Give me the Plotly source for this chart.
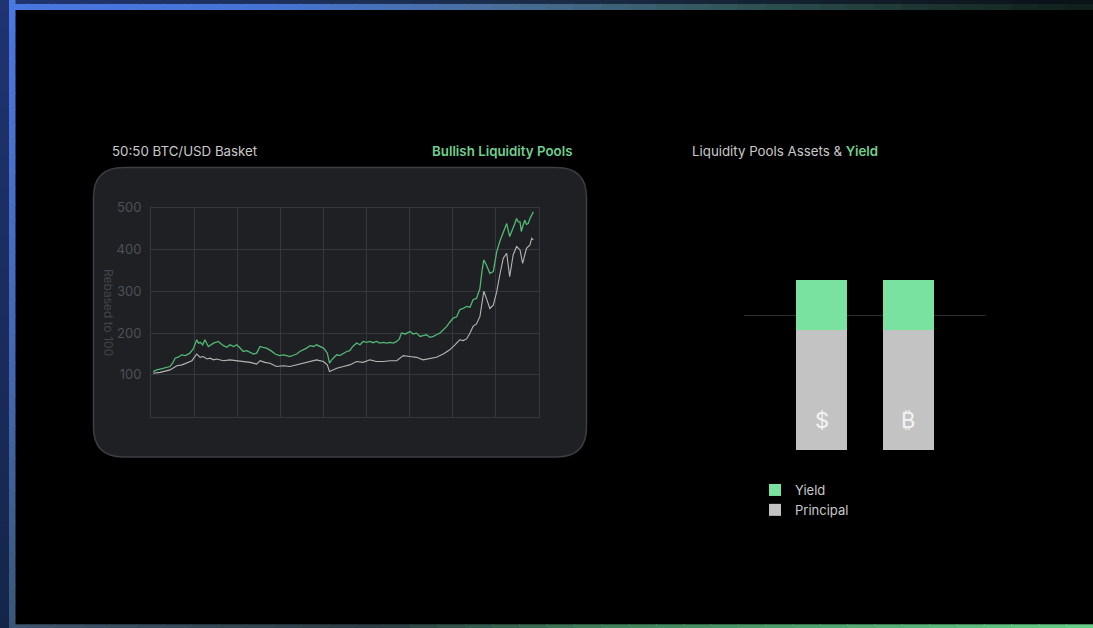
import plotly.graph_objects as go

W, H = 1093, 628

# ---------------- data ----------------
# left chart: x in grid intervals (0..9), values rebased to 100
lp_x = [0.05, 0.13, 0.21, 0.30, 0.44, 0.50, 0.56, 0.64, 0.71, 0.80, 0.90, 0.98, 1.06, 1.10, 1.14,
        1.20, 1.25, 1.33, 1.40, 1.45, 1.56, 1.62, 1.68, 1.76, 1.83, 1.92, 1.99, 2.06, 2.14, 2.22,
        2.30, 2.38, 2.45, 2.53, 2.60, 2.68, 2.78, 2.88, 2.98, 3.07, 3.15, 3.22, 3.30, 3.38, 3.45,
        3.53, 3.61, 3.69, 3.77, 3.84, 3.92, 4.00, 4.05, 4.09, 4.14, 4.19, 4.25, 4.31, 4.38, 4.46,
        4.54, 4.61, 4.68, 4.77, 4.85, 4.92, 5.00, 5.08, 5.15, 5.23, 5.31, 5.39, 5.47, 5.54, 5.62,
        5.70, 5.76, 5.81, 5.90, 6.01, 6.08, 6.16, 6.24, 6.31, 6.39, 6.47, 6.55, 6.62, 6.70, 6.78,
        6.86, 6.93, 7.01, 7.09, 7.16, 7.24, 7.32, 7.40, 7.47, 7.55, 7.63, 7.68, 7.72, 7.78, 7.82,
        7.86, 7.94, 8.02, 8.09, 8.13, 8.17, 8.21, 8.25, 8.32, 8.36, 8.40, 8.44, 8.48, 8.52, 8.56,
        8.59, 8.63, 8.67, 8.71, 8.75, 8.79, 8.83, 8.87]
lp_y = [108, 112, 114, 117, 120, 128, 140, 143, 148, 146, 152, 162, 184, 176, 178,
        172, 184, 168, 174, 176, 180, 174, 170, 166, 172, 168, 172, 165, 156, 158,
        154, 150, 152, 168, 166, 164, 158, 150, 146, 148, 146, 144, 147, 150, 156,
        160, 164, 170, 168, 172, 168, 164, 158, 152, 128, 136, 142, 148, 146, 152,
        156, 158, 168, 176, 172, 180, 178, 180, 177, 180, 176, 178, 176, 178, 176,
        180, 186, 200, 198, 204, 198, 200, 192, 194, 196, 190, 192, 196, 200, 208,
        216, 226, 236, 239, 256, 259, 264, 262, 280, 283, 307, 350, 375, 363, 352,
        343, 347, 395, 419, 430, 443, 452, 462, 431, 440, 451, 462, 474, 466, 466,
        443, 458, 470, 460, 462, 474, 482, 490]

basket_x = [0.05, 0.21, 0.44, 0.60, 0.72, 0.83, 0.95, 1.06, 1.14, 1.21, 1.30, 1.37, 1.45,
            1.52, 1.68, 1.83, 1.99, 2.14, 2.30, 2.45, 2.53, 2.64, 2.76, 2.91, 3.07, 3.22,
            3.38, 3.53, 3.69, 3.84, 4.00, 4.09, 4.14, 4.22, 4.31, 4.46, 4.61, 4.77, 4.92,
            5.08, 5.23, 5.39, 5.54, 5.70, 5.85, 6.00, 6.16, 6.31, 6.47, 6.62, 6.78, 6.93,
            7.05, 7.16, 7.24, 7.32, 7.40, 7.47, 7.55, 7.63, 7.67, 7.72, 7.78, 7.86, 7.94,
            8.02, 8.09, 8.17, 8.25, 8.32, 8.40, 8.48, 8.56, 8.62, 8.71, 8.79, 8.83, 8.87]
basket_y = [104, 106, 112, 122, 124, 128, 134, 150, 142, 144, 138, 140, 136,
            138, 134, 136, 134, 132, 130, 126, 134, 130, 128, 120, 122, 120,
            124, 128, 132, 136, 132, 124, 108, 112, 116, 120, 124, 132, 130,
            136, 132, 132, 134, 134, 146, 144, 142, 136, 140, 142, 150, 160,
            172, 184, 182, 186, 200, 216, 222, 240, 267, 300, 283, 259, 267,
            299, 339, 379, 391, 335, 387, 407, 399, 367, 403, 411, 427, 423]

y_ticks = [0, 100, 200, 300, 400, 500]
y_ticktext = ["", "100", "200", "300", "400", "500"]

# right chart
assets = ["USD", "BTC"]
principal = [100, 100]
yield_part = [42, 42]
asset_symbols = ["$", "₿"]
ref_lines = [0, 112]

# ---------------- style ----------------
FONT = "Inter, DejaVu Sans, sans-serif"
GREEN_TXT = "#6fcf8f"
GRAY_TXT = "#c9c9c9"
GRID = "#34373c"
PANEL = "#1e2024"
PANEL_LINE = "#3b3e43"
SYMBOL_Y = 25
TITLE_SIZE = 13.3

# the rendered page maps paper-pixel y to 8 + y*620/628, so place items in target pixels
Y_OFF, H_EFF = 8, 620


def px(x):
    return x / W


def py(y):
    return 1 - (y - Y_OFF) / H_EFF


def rrect_path(x0, y0, x1, y1, r):
    pts = [
        ("M", [(x0 + r, y0)]),
        ("L", [(x1 - r, y0)]),
        ("Q", [(x1, y0), (x1, y0 + r)]),
        ("L", [(x1, y1 - r)]),
        ("Q", [(x1, y1), (x1 - r, y1)]),
        ("L", [(x0 + r, y1)]),
        ("Q", [(x0, y1), (x0, y1 - r)]),
        ("L", [(x0, y0 + r)]),
        ("Q", [(x0, y0), (x0 + r, y0)]),
    ]
    s = ""
    for cmd, ps in pts:
        s += cmd + " ".join(f"{px(a):.5f},{py(b):.5f}" for a, b in ps) + " "
    return s + "Z"


def hex2rgb(h):
    h = h.lstrip("#")
    return tuple(int(h[i:i + 2], 16) for i in (0, 2, 4))


def blend(stops, t):
    for (t0, c0), (t1, c1) in zip(stops, stops[1:]):
        if t0 <= t <= t1:
            f = 0 if t1 == t0 else (t - t0) / (t1 - t0)
            a, b = hex2rgb(c0), hex2rgb(c1)
            return "rgb(%d,%d,%d)" % tuple(round(a[i] + (b[i] - a[i]) * f) for i in range(3))
    return stops[-1][1]


fig = go.Figure()

fig.add_trace(go.Scatter(x=basket_x, y=basket_y, mode="lines",
                         line=dict(color="#b5b5b5", width=1.1),
                         xaxis="x", yaxis="y", showlegend=False, hoverinfo="skip"))
fig.add_trace(go.Scatter(x=lp_x, y=lp_y, mode="lines",
                         line=dict(color="#52b874", width=1.3),
                         xaxis="x", yaxis="y", showlegend=False, hoverinfo="skip"))

fig.add_trace(go.Bar(x=assets, y=principal, name="Principal", marker_color="#c3c3c3",
                     marker_line_width=0, width=0.586, xaxis="x2", yaxis="y2"))
fig.add_trace(go.Bar(x=assets, y=yield_part, name="Yield", marker_color="#7ae2a0",
                     marker_line_width=0, width=0.586, xaxis="x2", yaxis="y2"))

shapes = []
# frame decoration
N = 40
top_stops = [(0, "#4a78e2"), (0.25, "#4673d4"), (0.45, "#4a6f9c"), (0.65, "#33585c"),
             (0.85, "#1c3430"), (1, "#0f1e1a")]
top_outer = [(0, "#1f3470"), (0.5, "#1a2c48"), (1, "#0a1216")]
bot_stops = [(0, "#3e5670"), (0.35, "#2a3c42"), (0.55, "#3f8058"), (1, "#66cf88")]
left_stops = [(0, "#4a78e2"), (0.6, "#4366b0"), (1, "#3a5674")]
left_outer = [(0, "#1f3470"), (1, "#15254a")]
for i in range(N):
    t0, t1 = i / N, (i + 1) / N
    tm = (t0 + t1) / 2
    shapes.append(dict(type="rect", xref="paper", yref="paper", x0=t0, x1=t1 + 0.001,
                       y0=py(10), y1=py(3.5), fillcolor=blend(top_stops, tm), line_width=0, layer="below"))
    shapes.append(dict(type="rect", xref="paper", yref="paper", x0=t0, x1=t1 + 0.001,
                       y0=py(3.5), y1=py(-2), fillcolor=blend(top_outer, tm), line_width=0, layer="below"))
    shapes.append(dict(type="rect", xref="paper", yref="paper", x0=max(t0, px(15)), x1=t1 + 0.001,
                       y0=py(631), y1=py(624.3), fillcolor=blend(bot_stops, tm), line_width=0, layer="below"))
    ya, yb = -2 + t0 * 634, -2 + t1 * 634
    shapes.append(dict(type="rect", xref="paper", yref="paper", x0=px(9), x1=px(15.5),
                       y0=py(yb + 1), y1=py(ya), fillcolor=blend(left_stops, tm), line_width=0, layer="below"))
    shapes.append(dict(type="rect", xref="paper", yref="paper", x0=0, x1=px(9),
                       y0=py(yb + 1), y1=py(ya), fillcolor=blend(left_outer, tm), line_width=0, layer="below"))

# left panel
shapes.append(dict(type="path", xref="paper", yref="paper", path=rrect_path(93.5, 167.5, 586.5, 457, 30),
                   fillcolor=PANEL, line=dict(color=PANEL_LINE, width=1.5), layer="below"))

annotations = [
    dict(text="50:50 BTC/USD Basket", x=px(110), y=py(151), xref="paper", yref="paper",
         xanchor="left", yanchor="middle", showarrow=False,
         font=dict(family=FONT, size=TITLE_SIZE, color=GRAY_TXT)),
    dict(text="Bullish Liquidity Pools", x=px(574), y=py(151), xref="paper", yref="paper",
         xanchor="right", yanchor="middle", showarrow=False,
         font=dict(family=FONT, size=TITLE_SIZE, color=GREEN_TXT, weight=600)),
    dict(text="Liquidity Pools Assets & <span style='color:%s;font-weight:600'>Yield</span>" % GREEN_TXT,
         x=px(690), y=py(151), xref="paper", yref="paper",
         xanchor="left", yanchor="middle", showarrow=False,
         font=dict(family=FONT, size=TITLE_SIZE, color=GRAY_TXT)),
    dict(text="Rebased to 100", textangle=90, x=px(108), y=py(312), xref="paper", yref="paper",
         xanchor="center", yanchor="middle", showarrow=False,
         font=dict(family=FONT, size=12, color="#414449")),
]
for a, s in zip(assets, asset_symbols):
    annotations.append(dict(text=s, x=a, y=SYMBOL_Y, xref="x2", yref="y2", showarrow=False,
                            xanchor="center", yanchor="middle",
                            font=dict(family=FONT, size=22, color="#f4f4f4")))

fig.update_layout(
    width=W, height=H,
    autosize=False,
    margin=dict(l=0, r=0, t=0, b=0, pad=0),
    paper_bgcolor="#000000",
    plot_bgcolor="rgba(0,0,0,0)",
    font=dict(family=FONT, color=GRAY_TXT),
    barmode="stack",
    shapes=shapes,
    annotations=annotations,
    xaxis=dict(domain=[px(151), px(539)], range=[0, 9], dtick=1, tick0=0,
               showticklabels=False, showgrid=True, gridcolor=GRID, gridwidth=1,
               zeroline=False, showline=True, mirror=True, linecolor=GRID, linewidth=1,
               fixedrange=True),
    yaxis=dict(domain=[py(416.7), py(207.7)], range=[0, 500], tickvals=y_ticks, ticktext=y_ticktext,
               showgrid=True, gridcolor=GRID, gridwidth=1, zeroline=False,
               showline=True, mirror=True, linecolor=GRID, linewidth=1,
               ticks="", ticklabelstandoff=6,
               tickfont=dict(family=FONT, size=13, color="#4d5056"), fixedrange=True),
    xaxis2=dict(domain=[px(744), px(986)], range=[-0.891, 1.891], showticklabels=False,
                showgrid=False, zeroline=False, showline=False, anchor="y2", fixedrange=True),
    yaxis2=dict(domain=[py(450), py(270)], range=[0, 150], tickvals=ref_lines,
                showticklabels=False, showgrid=True, gridcolor="#2e2e2e", gridwidth=1,
                zeroline=False, showline=False, anchor="x2", fixedrange=True),
    showlegend=True,
    legend=dict(x=px(755), y=py(475), xanchor="left", yanchor="top",
                bgcolor="rgba(0,0,0,0)", font=dict(family=FONT, size=13, color=GRAY_TXT),
                traceorder="reversed", itemwidth=30, tracegroupgap=0),
)

fig.write_html("out.html", config={"displayModeBar": False})
